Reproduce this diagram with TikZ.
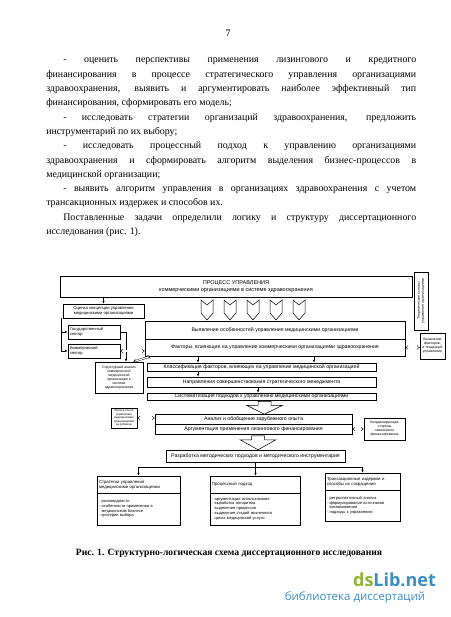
\documentclass[tikz,border=0pt]{standalone}
\usepackage{fontspec}
\setmainfont{Liberation Serif}
\newfontfamily\diagfont{Liberation Sans}
\newfontfamily\wmfont{Open Sans}
\usepackage{xcolor}
\usepackage{tikz}
\usetikzlibrary{arrows.meta, positioning, calc}

\definecolor{dsGreen}{RGB}{141,180,52}
\definecolor{dsBlue}{RGB}{58,142,200}

\newlength{\bodywidth}\setlength{\bodywidth}{370pt}
\newlength{\bodyindent}\setlength{\bodyindent}{17pt}
\newcommand{\jline}[1]{\makebox[\bodywidth][s]{#1}}
\newcommand{\jindent}[1]{\hspace*{\bodyindent}\makebox[\dimexpr\bodywidth-\bodyindent\relax][s]{#1}}

\begin{document}
\begin{tikzpicture}[x=1pt, y=-1pt, >={Latex[length=3pt, width=2.4pt]}, line width=0.5pt]
        \tikzstyle{box} = [rectangle, draw=black, inner sep=0.3pt, align=center, font=\diagfont\fontsize{5.2}{5.8}\selectfont]
        \tikzstyle{sideBox} = [box, font=\diagfont\fontsize{3.5}{4.1}\selectfont]
        \tikzstyle{leftBox} = [box, align=left, font=\diagfont\fontsize{4.1}{4.8}\selectfont]
        \tikzstyle{headBox} = [box, align=left, inner xsep=2pt, font=\diagfont\fontsize{4.3}{5.0}\selectfont]
        \tikzstyle{listBox} = [box, align=left, inner xsep=2pt, font=\diagfont\fontsize{4.0}{4.8}\selectfont]
        \tikzstyle{chevron} = [draw=black, fill=white, line join=miter]
        \tikzstyle{hollowArrow} = [draw=black, fill=white, line join=miter]
        \tikzstyle{dblArrow} = [double, double distance=1.1pt, line width=0.4pt, {Implies}-{Implies}]
        \tikzstyle{bodyText} = [inner sep=0pt, align=left, font=\fontsize{9.9}{14.3}\selectfont]

        \useasboundingbox (0,0) rectangle (450,617);

        % page text
        \node[inner sep=0pt, font=\fontsize{9.9}{11}\selectfont] (pageNo) at (228, 33) {7};
        \node[bodyText, anchor=north west] (body) at (46, 58.0) {%
            \jindent{- оценить перспективы применения лизингового и кредитного}\\
            \jline{финансирования в процессе стратегического управления организациями}\\
            \jline{здравоохранения, выявить и аргументировать наиболее эффективный тип}\\
            финансирования, сформировать его модель;\\
            \jindent{- исследовать стратегии организаций здравоохранения, предложить}\\
            инструментарий по их выбору;\\
            \jindent{- исследовать процессный подход к управлению организациями}\\
            \jline{здравоохранения и сформировать алгоритм выделения бизнес-процессов в}\\
            медицинской организации;\\
            \jindent{- выявить алгоритм управления в организациях здравоохранения с учетом}\\
            трансакционных издержек и способов их.\\
            \jindent{Поставленные задачи определили логику и структуру диссертационного}\\
            исследования (рис. 1).};

        % scheme
        \node[box, minimum width=352, minimum height=21, font=\diagfont\fontsize{5.5}{6.4}\selectfont] (proc) at (236, 286.5) {ПРОЦЕСС УПРАВЛЕНИЯ\\ коммерческими организациями в системе здравоохранения};
        \node[sideBox, rotate=90, minimum width=58, minimum height=14] (theory) at (421, 301) {Теоретические основы\\ управления организациями};

        \node[box, minimum width=81, minimum height=14, font=\diagfont\fontsize{4.2}{4.9}\selectfont] (evalConcept) at (103.5, 311) {Оценка концепции управления\\ медицинскими организациями};
        \node[leftBox, minimum width=52, minimum height=14, text width=48] (stateSec) at (94, 332) {Государственный\\ сектор};
        \node[leftBox, minimum width=52, minimum height=14, text width=48] (commSec) at (94, 351) {Коммерческий\\ сектор};

        \node[box, minimum width=260, minimum height=18] (features) at (275, 330) {Выявление особенностей управления медицинскими организациями};
        \node[box, minimum width=260, minimum height=17] (factors) at (275, 347.5) {Факторы, влияющие на управление коммерческими организациями здравоохранения};
        \node[sideBox, minimum width=25, minimum height=26] (factorsOut) at (432.5, 346) {Выявление\\ факторов,\\ и тенденций\\ управления};

        \node[sideBox, minimum width=48, minimum height=31] (structAn) at (119, 377.5) {Структурный анализ\\ коммерческой\\ медицинской\\ организации в\\ системе\\ здравоохранения};
        \node[box, minimum width=229, minimum height=8] (classif) at (261.5, 367) {Классификация факторов, влияющих на управление медицинской организацией};
        \node[box, minimum width=229, minimum height=10] (directions) at (261.5, 382) {Направления совершенствования стратегического менеджмента};
        \node[box, minimum width=229, minimum height=7] (systemat) at (261.5, 396.5) {Систематизация подходов к управлению медицинскими организациями};

        \node[sideBox, minimum width=26, minimum height=20, font=\diagfont\fontsize{2.9}{3.5}\selectfont] (foreignEval) at (124, 418) {Оценка опыта\\ управления\\ медицинскими\\ организациями\\ за рубежом};
        \node[box, minimum width=197, minimum height=10] (analysis) at (253.5, 419) {Анализ и обобщение зарубежного опыта};
        \node[box, minimum width=197, minimum height=10] (leasing) at (253.5, 429) {Аргументация применения лизингового финансирования};
        \node[sideBox, minimum width=41, minimum height=22] (coordSide) at (384.5, 429) {Координирующие\\ стороны\\ лизингового\\ финансирования};

        \node[box, minimum width=179, minimum height=12] (methods) at (255.5, 456) {Разработка методических подходов и методического инструментария};

        \node[headBox, minimum width=83, minimum height=17, text width=79] (stratHead) at (138.5, 484.5) {Стратегии управления\\ медицинскими организациями};
        \node[listBox, minimum width=83, minimum height=32, text width=79] (stratList) at (138.5, 509) {- разновидности\\ - особенности применения в\\ \ \ медицинском бизнесе\\ - критерии выбора};
        \node[headBox, minimum width=90, minimum height=17, text width=86] (procHead) at (255, 484.5) {Процессный подход};
        \node[listBox, minimum width=90, minimum height=32, text width=86] (procList) at (255, 509) {- аргументация использования\\ - выработка алгоритма\\ \ \ выделения процессов\\ - выделение стадий жизненного\\ \ \ цикла медицинской услуги};
        \node[headBox, minimum width=75, minimum height=17, text width=71] (transHead) at (362.5, 481.5) {Трансакционные издержки и\\ способы их сокращения};
        \node[listBox, minimum width=75, minimum height=31, text width=71] (transList) at (362.5, 505.5) {- ретроспективный анализ\\ - формулирование источников\\ \ \ возникновения\\ - подходы к управлению};

        % chevrons under the process box
        \draw[chevron] (201,300) -- ++(6,5) -- ++(6,-5) -- ++(0,13) -- ++(-6,7) -- ++(-6,-7) -- cycle;
        \draw[chevron] (224,300) -- ++(6,5) -- ++(6,-5) -- ++(0,13) -- ++(-6,7) -- ++(-6,-7) -- cycle;
        \draw[chevron] (247,300) -- ++(6,5) -- ++(6,-5) -- ++(0,13) -- ++(-6,7) -- ++(-6,-7) -- cycle;
        \draw[chevron] (270,300) -- ++(6,5) -- ++(6,-5) -- ++(0,13) -- ++(-6,7) -- ++(-6,-7) -- cycle;
        \draw[chevron] (293,300) -- ++(6,5) -- ++(6,-5) -- ++(0,13) -- ++(-6,7) -- ++(-6,-7) -- cycle;

        % connectors
        \coordinate (colA) at (198, 0);
        \coordinate (colB) at (314, 0);
        \coordinate (colC) at (258, 0);

        \draw[->] (proc.south -| evalConcept.north) -- (evalConcept.north);
        \draw[->] ([xshift=-2]evalConcept.south west) |- (stateSec.west);
        \draw[->] ([xshift=-2]evalConcept.south west) |- (commSec.west);
        \draw[->] (stateSec.east) -| ([xshift=7]structAn.north);
        \draw[dblArrow] (commSec.east) -- (commSec.east -| factors.west);
        \draw[dblArrow] ([xshift=-10]structAn.north east) -- ([xshift=6]factors.south west);
        \draw[dblArrow] (factors.east) -- (factors.east -| factorsOut.west);

        \draw[->] (factors.south -| colA) -- (classif.north -| colA);
        \draw[->] (factors.south -| colB) -- (classif.north -| colB);
        \draw[->] (classif.south -| colA) -- (directions.north -| colA);
        \draw[->] (directions.south -| colC) -- (systemat.north -| colC);

        \draw[hollowArrow] ([xshift=-3.5, yshift=-1]systemat.south) -- ++(13,0) -- ++(0,4) -- ++(11.5,0) -- ++(-18,9) -- ++(-18,-9) -- ++(11.5,0) -- cycle;
        \draw[dblArrow] (foreignEval.east) -- (foreignEval.east -| analysis.west);
        \draw[dblArrow] (leasing.east) -- (leasing.east -| coordSide.west);
        \draw[hollowArrow] ([xshift=-2, yshift=-1.5]leasing.south) -- ++(13,0) -- ++(0,4) -- ++(11.5,0) -- ++(-18,10) -- ++(-18,-10) -- ++(11.5,0) -- cycle;

        \draw (methods.south) -- ++(0,5) coordinate (split);
        \draw[->] (split) -| (stratHead.north);
        \draw[->] (split) -| (transHead.north);
        \draw[->] (split) -- (split |- procHead.north);

        % caption and site mark
        \node[inner sep=0pt, font=\bfseries\fontsize{9.6}{11}\selectfont] (caption) at (229, 553) {Рис. 1. Структурно-логическая схема диссертационного исследования};
        \node[inner sep=0pt, font=\wmfont\bfseries\fontsize{18}{20}\selectfont] (siteLogo) at (394.5, 580) {\textcolor{dsGreen}{ds}\textcolor{dsBlue}{Lib.net}};
        \node[inner sep=0pt, text=dsBlue, font=\wmfont\fontsize{11.5}{13}\selectfont] (siteSub) at (355, 597) {библиотека диссертаций};
    \end{tikzpicture}
\end{document}
